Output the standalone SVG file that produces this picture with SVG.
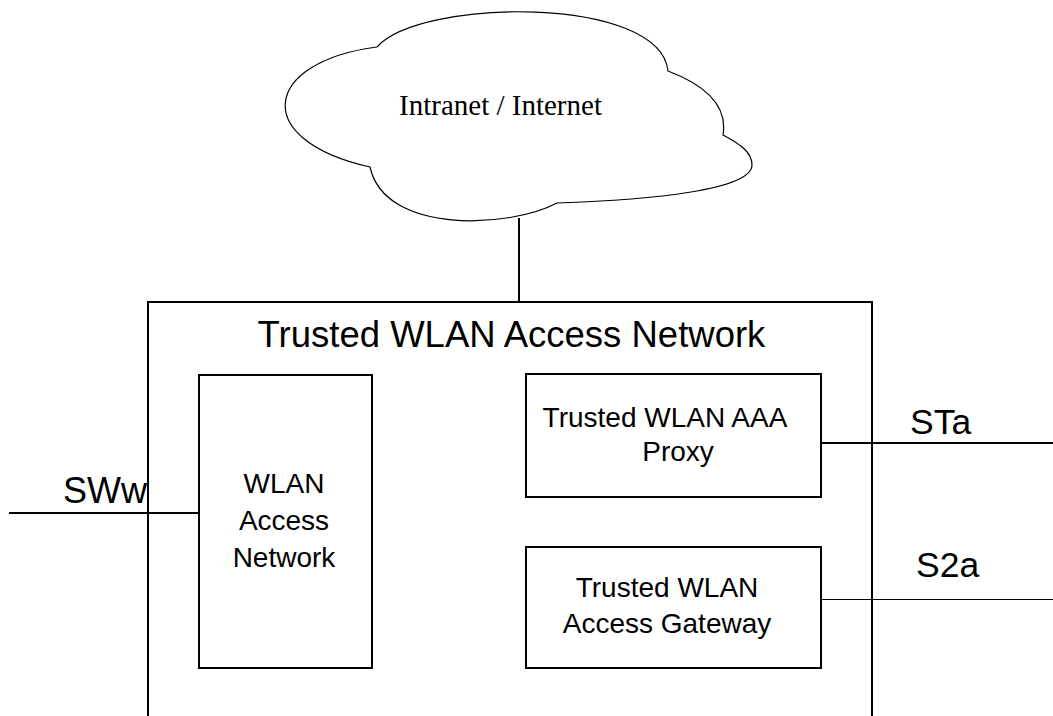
<svg xmlns="http://www.w3.org/2000/svg" width="1053" height="716" viewBox="0 0 1053 716">
<style>
.box{fill:#fff;stroke:#000;stroke-width:2}
.sans{font-family:"Liberation Sans",Arial,sans-serif;fill:#000}
.serif{font-family:"Liberation Serif","Times New Roman",serif;fill:#000}
.c2{stroke:#000;stroke-width:2;fill:none}
.c1{stroke:#000;stroke-width:1;fill:none}
</style>
<rect x="0" y="0" width="1053" height="716" fill="#fff"/>
<g id="cloud">
<path d="M377,47 C420,-2 660,-5 668,71 C705,85 728,105 723,135 C742,145 752,153 752,165 C752,190 650,200 557,203 C510,228 385,235 370,167 C250,140 262,62 377,47 Z" fill="#fff" stroke="#000" stroke-width="1.2"/>
<text class="serif" x="500.5" y="115" font-size="29" text-anchor="middle">Intranet / Internet</text>
</g>
<g id="trusted-wlan-an">
<path class="c2" d="M148,716 L148,302 L872,302 L872,716"/>
<text class="sans" x="511.5" y="347" font-size="36.5" text-anchor="middle">Trusted WLAN Access Network</text>
</g>
<g id="connectors">
<line class="c2" x1="519" y1="218" x2="519" y2="302"/>
<line class="c2" x1="9" y1="513" x2="199" y2="513"/>
<line class="c2" x1="822" y1="443" x2="1053" y2="443"/>
<line class="c1" x1="822" y1="599.5" x2="1053" y2="599.5"/>
<text class="sans" x="63" y="503" font-size="36">SWw</text>
<text class="sans" x="910" y="434" font-size="35.5">STa</text>
<text class="sans" x="916" y="577" font-size="35.5">S2a</text>
</g>
<g id="wlan-an">
<rect class="box" x="199" y="375" width="173" height="293"/>
<text class="sans" font-size="28" text-anchor="middle"><tspan x="284" y="493">WLAN</tspan><tspan x="284" y="530">Access</tspan><tspan x="284" y="567">Network</tspan></text>
</g>
<g id="aaa-proxy">
<rect class="box" x="526" y="374" width="295" height="123"/>
<text class="sans" font-size="28" text-anchor="middle"><tspan x="665" y="427">Trusted WLAN AAA</tspan><tspan x="678" y="461">Proxy</tspan></text>
</g>
<g id="twag">
<rect class="box" x="526" y="547" width="295" height="121"/>
<text class="sans" font-size="28" text-anchor="middle"><tspan x="667" y="597">Trusted WLAN</tspan><tspan x="667" y="633">Access Gateway</tspan></text>
</g>
</svg>
